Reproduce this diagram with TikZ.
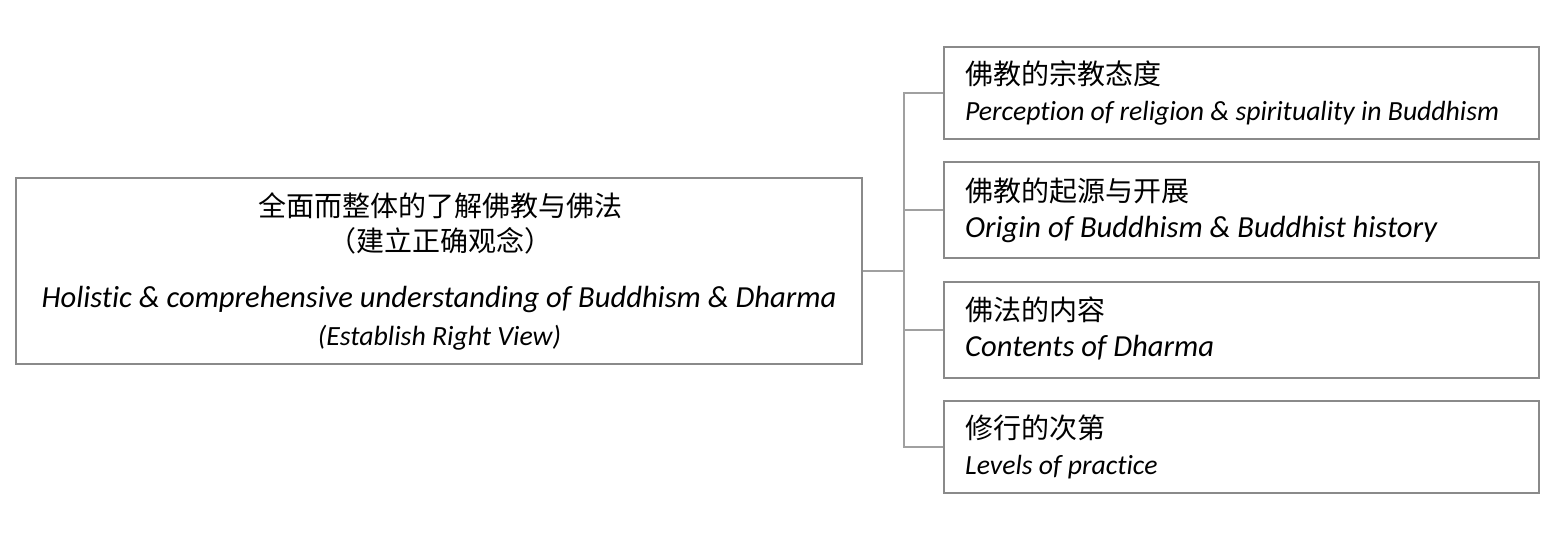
\documentclass[tikz,border=0pt]{standalone}
\usepackage{fontspec}
\setmainfont[Ligatures={NoCommon}]{Carlito}
\newfontfamily\cjk{Noto Sans CJK SC}
\begin{document}
\begin{tikzpicture}[x=1pt,y=-1pt,
  boxstyle/.style={draw=boxgray,line width=1.2pt,inner sep=0pt},
  cn/.style={inner sep=0pt,font=\cjk\fontsize{28}{32}\selectfont},
  en/.style={inner sep=0pt,font=\itshape\fontsize{#1}{32}\selectfont},
  link/.style={draw=linkgray,line width=1.3pt}]
\definecolor{boxgray}{HTML}{8A8A8A}
\definecolor{linkgray}{HTML}{A0A0A0}
\useasboundingbox[fill=white] (0,0) rectangle (1560,546);
% main box
\node[boxstyle,minimum width=846pt,minimum height=186pt] (main) at (439,271) {};
\node[cn,anchor=base] (m1) at (440,216) {全面而整体的了解佛教与佛法};
\node[cn,anchor=base] (m2) at (440,251) {（建立正确观念）};
\node[en=30.6,anchor=base] (m3) at (439,307.5) {Holistic \& comprehensive understanding of Buddhism \& Dharma};
\node[en=27.8,anchor=base] (m4) at (439.5,345) {(Establish Right View)};
% right boxes
\node[boxstyle,minimum width=595pt,minimum height=92pt] (b1) at (1241.5,93) {};
\node[boxstyle,minimum width=595pt,minimum height=96pt] (b2) at (1241.5,210) {};
\node[boxstyle,minimum width=595pt,minimum height=96pt] (b3) at (1241.5,330) {};
\node[boxstyle,minimum width=595pt,minimum height=92pt] (b4) at (1241.5,447) {};
\node[cn,anchor=base west] (t1a) at (965,84.5) {佛教的宗教态度};
\node[en=27.7,anchor=base west] (t1b) at (965,120.5) {Perception of religion \& spirituality in Buddhism};
\node[cn,anchor=base west] (t2a) at (965,201.5) {佛教的起源与开展};
\node[en=30.6,anchor=base west] (t2b) at (965,237.5) {Origin of Buddhism \& Buddhist history};
\node[cn,anchor=base west] (t3a) at (965,320.5) {佛法的内容};
\node[en=30.6,anchor=base west] (t3b) at (965,356.5) {Contents of Dharma};
\node[cn,anchor=base west] (t4a) at (965,438.5) {修行的次第};
\node[en=27.7,anchor=base west] (t4b) at (965,474.5) {Levels of practice};
% connectors
\coordinate (j) at (904,271);
\draw[link] (main.east) -- (j);
\draw[link] (j) |- (b1.west);
\draw[link] (j) |- (b2.west);
\draw[link] (j) |- (b3.west);
\draw[link] (j) |- (b4.west);
\end{tikzpicture}
\end{document}
